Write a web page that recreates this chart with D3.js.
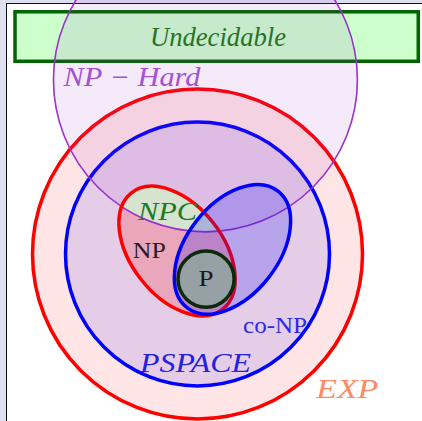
<!DOCTYPE html>
<html>
<head>
<meta charset="utf-8">
<script src="https://cdn.jsdelivr.net/npm/d3@7"></script>
<style>
  html, body { margin: 0; padding: 0; background: #dfdff2; }
  svg { display: block; }
  .label { font-family: "Liberation Serif", "Times New Roman", serif; }
</style>
</head>
<body>
<div id="chart"></div>
<script>
// complexity classes, in diagram units (1 unit = 33px, origin at centre of EXP)
const circleNames = ["EXP", "PSPACE", "NP-Hard", "P"]
const circleX = [0, 0, 0.24, 0.26]
const circleY = [0, 0, 5.28, -0.76]
const circleR = [5, 4, 4.606, 0.85]

const ellipseNames = ["NP", "co-NP"]
const ellipseX = [-0.62, 1.06]
const ellipseY = [0.09, 0.14]
const ellipseRx = [1.39, 1.39]
const ellipseRy = [2.24, 2.24]
const ellipseAngle = [-38, 38]

// Undecidable box corners
const boxX = [-5.53, 6.69]
const boxY = [7.34, 5.84]

const labelTexts = ["Undecidable", "NP − Hard", "NPC", "NP", "P", "co-NP", "PSPACE", "EXP"]
const labelX = [-1.44, -4.06, -1.80, -1.96, 0.26, 1.38, -1.74, 3.60]
const labelY = [6.30, 5.09, 1.03, -0.12, -0.97, -2.39, -3.58, -4.36]
const labelWidth = [136, 137, 59, 33, 15, 64, 111, 62]

const width = 422, height = 421
const x = d3.scaleLinear().domain([0, 1]).range([197.5, 230.5])
const y = d3.scaleLinear().domain([0, 1]).range([254, 221])
const k = x(1) - x(0)

const svg = d3.select("#chart").append("svg")
    .attr("width", width)
    .attr("height", height)

// page frame
svg.append("rect").attr("x", 7).attr("y", 4).attr("width", width).attr("height", height).attr("fill", "#fff")
svg.append("line").attr("x1", 6.5).attr("x2", 6.5).attr("y1", 3).attr("y2", height).attr("stroke", "#111").attr("stroke-width", 1)
svg.append("line").attr("x1", 6).attr("x2", width).attr("y1", 3.5).attr("y2", 3.5).attr("stroke", "#111").attr("stroke-width", 1)

const defs = svg.append("defs")
const circ = name => circleNames.indexOf(name)
const ell = name => ellipseNames.indexOf(name)

const drawCircle = (g, i) => g.append("circle")
    .attr("cx", x(circleX[i])).attr("cy", y(circleY[i])).attr("r", circleR[i] * k)
const drawEllipse = (g, i) => g.append("ellipse")
    .attr("rx", ellipseRx[i] * k).attr("ry", ellipseRy[i] * k)
    .attr("transform", `translate(${x(ellipseX[i])},${y(ellipseY[i])}) rotate(${ellipseAngle[i]})`)

// Undecidable
svg.append("rect")
    .attr("x", x(boxX[0])).attr("y", y(boxY[0]))
    .attr("width", x(boxX[1]) - x(boxX[0])).attr("height", y(boxY[1]) - y(boxY[0]))
    .attr("fill", "#ccffcc").attr("stroke", "#006400").attr("stroke-width", 3.5)

drawCircle(svg, circ("EXP")).attr("fill", "red").attr("fill-opacity", 0.1)
    .attr("stroke", "red").attr("stroke-width", 3.5)
drawCircle(svg, circ("PSPACE")).attr("fill", "blue").attr("fill-opacity", 0.1)
    .attr("stroke", "blue").attr("stroke-width", 3.5)
drawCircle(svg, circ("NP-Hard")).attr("fill", "#9932cc").attr("fill-opacity", 0.1)
    .attr("stroke", "#9932cc").attr("stroke-width", 1.6)

// NP and the NP-complete part of it
drawEllipse(svg, ell("NP")).attr("fill", "red").attr("fill-opacity", 0.19)
drawEllipse(defs.append("clipPath").attr("id", "np-clip"), ell("NP"))
drawCircle(svg.append("g").attr("clip-path", "url(#np-clip)"), circ("NP-Hard"))
    .attr("fill", "#d2f0d2").attr("fill-opacity", 0.85)
    .attr("stroke", "#9932cc").attr("stroke-width", 1.6)
drawEllipse(svg, ell("NP")).attr("fill", "none").attr("stroke", "red").attr("stroke-width", 3.5)

drawEllipse(svg, ell("co-NP")).attr("fill", "blue").attr("fill-opacity", 0.2)
    .attr("stroke", "blue").attr("stroke-width", 3.5)

drawCircle(svg, circ("P")).attr("fill", "#96a0a5")
    .attr("stroke", "#0a2a0a").attr("stroke-width", 3.5)

// labels
const labelColor = ["#267326", "#a352d6", "#1f7a1f", "#2a1a2a", "#1a1a1a", "#2a2ae6", "#2222e0", "#ff8a65"]
const labelItalic = [true, true, true, false, false, false, true, true]
const labelSize = [27, 27, 26, 23, 24, 23, 27, 27]

svg.append("g")
    .selectAll("text")
    .data(labelTexts)
    .join("text")
    .attr("class", "label")
    .attr("x", (d, i) => x(labelX[i]))
    .attr("y", (d, i) => y(labelY[i]))
    .attr("text-anchor", (d, i) => d === "P" ? "middle" : "start")
    .attr("font-size", (d, i) => labelSize[i])
    .attr("font-style", (d, i) => labelItalic[i] ? "italic" : "normal")
    .attr("fill", (d, i) => labelColor[i])
    .attr("textLength", (d, i) => labelWidth[i])
    .attr("lengthAdjust", "spacingAndGlyphs")
    .text(d => d)
</script>
</body>
</html>
